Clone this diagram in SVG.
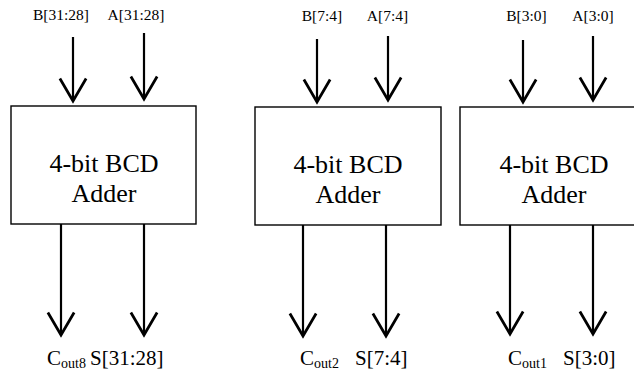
<svg xmlns="http://www.w3.org/2000/svg" width="634" height="372" viewBox="0 0 634 372">
<defs>
<style>
.box{fill:#fff;stroke:#000;stroke-width:1.4}
.wire{stroke:#000;stroke-width:2.2;fill:none;marker-end:url(#v)}
.lbl{font-family:"Liberation Serif","Times New Roman",serif;font-size:15.5px;fill:#000}
.out{font-family:"Liberation Serif","Times New Roman",serif;font-size:21px;fill:#000}
.sub{font-size:14px}
.title{font-family:"Liberation Serif","Times New Roman",serif;font-size:26px;fill:#000;text-anchor:middle}
</style>
<marker id="v" markerUnits="userSpaceOnUse" markerWidth="30" markerHeight="30" viewBox="-20 -12 22 24" refX="0" refY="0" orient="auto" overflow="visible">
<path d="M-18,-10.5 L0,0 L-18,10.5" fill="none" stroke="#000" stroke-width="2.2" stroke-linejoin="miter"/>
</marker>
</defs>
<rect width="634" height="372" fill="#fff"/>
<g id="adder1">
<rect class="box" x="11" y="106" width="185" height="118"/>
<text class="title" x="104" y="172">4-bit BCD</text>
<text class="title" x="104" y="202">Adder</text>
</g>
<g id="adder2">
<rect class="box" x="255" y="107" width="186" height="118"/>
<text class="title" x="348" y="173">4-bit BCD</text>
<text class="title" x="348" y="203">Adder</text>
</g>
<g id="adder3">
<rect class="box" x="460" y="107" width="186" height="118"/>
<text class="title" x="554" y="173">4-bit BCD</text>
<text class="title" x="554" y="203">Adder</text>
</g>
<g id="connectors">
<line class="wire" x1="73" y1="37" x2="73" y2="101"/>
<line class="wire" x1="144" y1="33" x2="144" y2="99"/>
<line class="wire" x1="317" y1="39" x2="317" y2="102"/>
<line class="wire" x1="388" y1="36" x2="388" y2="100"/>
<line class="wire" x1="523" y1="40" x2="523" y2="102"/>
<line class="wire" x1="593" y1="36" x2="593" y2="100"/>
<line class="wire" x1="61" y1="224" x2="61" y2="335"/>
<line class="wire" x1="144" y1="224" x2="144" y2="335"/>
<line class="wire" x1="303" y1="225" x2="303" y2="336"/>
<line class="wire" x1="386" y1="225" x2="386" y2="336"/>
<line class="wire" x1="510" y1="225" x2="510" y2="334"/>
<line class="wire" x1="593" y1="225" x2="593" y2="334"/>
</g>
<g id="labels">
<text class="lbl" x="61" y="20" text-anchor="middle">B[31:28]</text>
<text class="lbl" x="136" y="20" text-anchor="middle">A[31:28]</text>
<text class="lbl" x="322" y="21" text-anchor="middle">B[7:4]</text>
<text class="lbl" x="387.5" y="21" text-anchor="middle">A[7:4]</text>
<text class="lbl" x="526.5" y="21" text-anchor="middle">B[3:0]</text>
<text class="lbl" x="593" y="21" text-anchor="middle">A[3:0]</text>
<text class="out" x="47" y="365">C<tspan class="sub" dy="3">out8</tspan></text>
<text class="out" x="90" y="365">S[31:28]</text>
<text class="out" x="300" y="365">C<tspan class="sub" dy="3">out2</tspan></text>
<text class="out" x="355" y="365">S[7:4]</text>
<text class="out" x="508" y="365">C<tspan class="sub" dy="3">out1</tspan></text>
<text class="out" x="563" y="365">S[3:0]</text>
</g>
</svg>
